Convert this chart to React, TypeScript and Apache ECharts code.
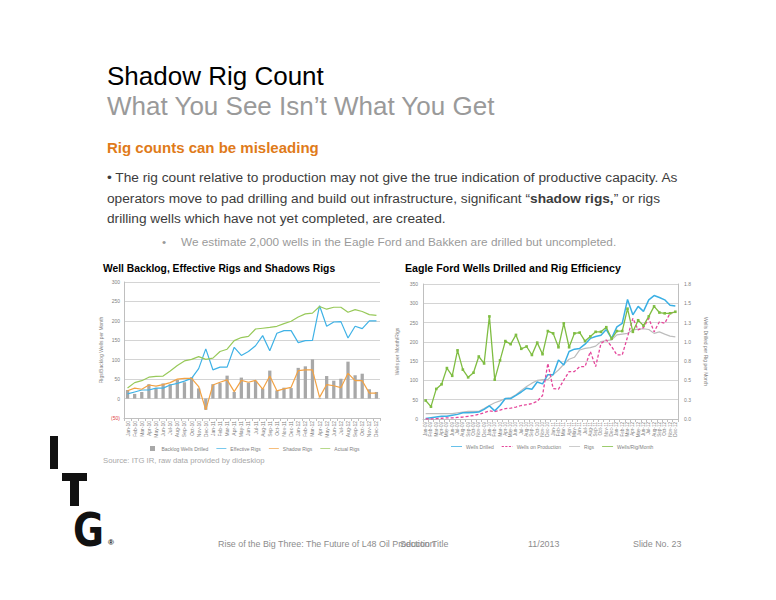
import React, { useEffect, useRef } from 'react';
import * as echarts from 'echarts';

const MONTHS = ['Jan', 'Feb', 'Mar', 'Apr', 'May', 'Jun', 'Jul', 'Aug', 'Sep', 'Oct', 'Nov', 'Dec'];
const LEFT_YEARS = ['10', '11', '12'];
const RIGHT_YEARS = ['09', '10', '11', '12'];
const leftCategories = LEFT_YEARS.flatMap((y) => MONTHS.map((m) => `${m}-${y}`));
const rightCategories = RIGHT_YEARS.flatMap((y) => MONTHS.map((m) => `${m}-${y}`));

// Left chart: Well Backlog, Effective Rigs and Shadows Rigs (Jan-10 .. Dec-12)
const backlogWells = [22, 12, 17, 37, 27, 39, 37, 48, 42, 55, 26, -29, 37, 40, 59, 17, 54, 41, 46, 26, 72, 21, 28, 27, 79, 83, 101, 2, 58, 46, 51, 95, 60, 64, 24, 17];
const effectiveRigs = [12, 17, 22, 22, 27, 27, 35, 39, 45, 52, 77, 128, 74, 81, 81, 132, 111, 121, 136, 162, 123, 168, 175, 175, 144, 149, 150, 239, 186, 197, 198, 156, 186, 180, 200, 200];
const shadowRigs = [20, 27, 24, 35, 32, 36, 41, 50, 52, 52, 31, -29, 35, 42, 48, 18, 47, 42, 47, 24, 58, 20, 25, 29, 72, 74, 74, 3, 36, 33, 28, 65, 46, 46, 14, 14];
const actualRigs = [27, 41, 46, 55, 57, 58, 71, 85, 97, 101, 108, 101, 104, 121, 127, 149, 157, 160, 179, 181, 183, 186, 193, 199, 210, 218, 220, 237, 230, 235, 235, 222, 229, 224, 216, 214];
const leftTicks = { min: -50, max: 300, interval: 50 };

// Right chart: Eagle Ford Wells Drilled and Rig Efficiency (Jan-09 .. Dec-12)
const wellsDrilled = [1, 3, 5, 7, 7, 10, 12, 16, 16, 17, 18, 25, 34, 21, 35, 53, 53, 61, 70, 80, 77, 96, 91, 115, 115, 153, 140, 175, 181, 183, 194, 209, 214, 217, 232, 209, 239, 248, 310, 270, 292, 279, 309, 320, 315, 309, 295, 293];
const wellsOnProduction = [0, 0, 1, 2, 3, 3, 4, 5, 7, 9, 12, 16, 21, 19, 23, 27, 28, 31, 35, 37, 40, 46, 61, 144, 79, 77, 101, 123, 123, 136, 136, 175, 136, 196, 205, 188, 166, 166, 213, 261, 231, 237, 261, 226, 252, 248, 274, 278];
const rigs = [14, 14, 14, 14, 14, 14, 16, 18, 20, 20, 20, 27, 35, 42, 47, 53, 55, 63, 74, 84, 93, 100, 102, 102, 115, 127, 142, 155, 160, 179, 183, 185, 189, 201, 203, 205, 218, 220, 222, 231, 233, 234, 232, 222, 226, 220, 215, 213];
const wellsPerRigMonth = [0.24, 0.16, 0.39, 0.45, 0.66, 0.56, 0.89, 0.64, 0.54, 0.6, 0.81, 0.72, 1.33, 0.51, 0.76, 1.01, 0.97, 1.09, 0.91, 0.94, 0.83, 0.99, 0.84, 1.14, 1.11, 0.93, 1.24, 0.93, 1.11, 1.12, 1.01, 1.07, 1.13, 1.13, 1.19, 1.04, 1.14, 1.14, 1.43, 1.13, 1.28, 1.21, 1.33, 1.46, 1.38, 1.37, 1.37, 1.39];
const rightLeftTicks = { min: 0, max: 350, interval: 50 };
const rightRightTicks = { min: 0, max: 1.75, interval: 0.25 };

const FONT = '"Liberation Sans", Arial, Helvetica, sans-serif';
const AX = '#7f7f7f';
const GRID_LINE = '#d4d4d4';
const SMALL = 5;

const ICON_SQUARE = 'path://M0,0h10v10h-10z';
const ICON_LINE = 'path://M0,0h20v1.4h-20z';
const ICON_DASH = 'path://M0,0h4v1.4h-4zM6.5,0h4v1.4h-4zM13,0h4v1.4h-4zM19.5,0h0.5v1.4h-0.5z';

function txt(x: number, y: number, text: string, size: number, fill: string, extra: any = {}) {
  return {
    type: 'text',
    x,
    y,
    silent: true,
    style: {
      text,
      fill,
      fontSize: size,
      fontFamily: FONT,
      textVerticalAlign: 'middle',
      ...extra,
    },
  };
}

export default function App() {
  const ref = useRef<HTMLDivElement>(null);

  useEffect(() => {
    if (!ref.current) return;
    const chart = echarts.init(ref.current, undefined, { renderer: 'svg' });

    const axisLabel = { fontSize: SMALL, color: AX, fontFamily: FONT };
    const xAxisCommon = (data: string[], gridIndex: number, size: number) => ({
      type: 'category',
      gridIndex,
      data,
      axisLine: { onZero: false, lineStyle: { color: '#bfbfbf' } },
      axisTick: { show: true, length: 3, lineStyle: { color: '#bfbfbf' } },
      axisLabel: { ...axisLabel, fontSize: size, rotate: 90, interval: 0, margin: 3 },
      splitLine: { show: false },
    });

    const option: any = {
      animation: false,
      backgroundColor: '#ffffff',
      textStyle: { fontFamily: FONT },
      grid: [
        { left: 124, top: 282, width: 256, height: 136 },
        { left: 423, top: 284, width: 255, height: 135 },
      ],
      xAxis: [xAxisCommon(leftCategories, 0, SMALL), xAxisCommon(rightCategories, 1, 4.6)],
      yAxis: [
        {
          type: 'value',
          gridIndex: 0,
          ...leftTicks,
          axisLine: { show: true, lineStyle: { color: '#bfbfbf' } },
          axisTick: { show: false },
          splitLine: { lineStyle: { color: GRID_LINE } },
          axisLabel: {
            ...axisLabel,
            margin: 4,
            formatter: (v: number) => (v < 0 ? `{neg|(${-v})}` : String(v)),
            rich: { neg: { color: '#e04545', fontSize: SMALL, fontFamily: FONT } },
          },
          name: 'Rigs/Backlog Wells per Month',
          nameLocation: 'middle',
          nameGap: 21,
          nameTextStyle: { fontSize: SMALL, color: AX, fontFamily: FONT },
        },
        {
          type: 'value',
          gridIndex: 1,
          ...rightLeftTicks,
          axisLine: { show: true, lineStyle: { color: '#bfbfbf' } },
          axisTick: { show: false },
          splitLine: { lineStyle: { color: GRID_LINE } },
          axisLabel: { ...axisLabel, margin: 5 },
          name: 'Wells per Month/Rigs',
          nameLocation: 'middle',
          nameGap: 24,
          nameTextStyle: { fontSize: SMALL, color: AX, fontFamily: FONT },
        },
        {
          type: 'value',
          gridIndex: 1,
          position: 'right',
          ...rightRightTicks,
          axisLine: { show: true, lineStyle: { color: '#bfbfbf' } },
          axisTick: { show: false },
          splitLine: { show: false },
          axisLabel: { ...axisLabel, margin: 6, formatter: (v: number) => v.toFixed(1) },
          name: 'Wells Drilled per Rig per Month',
          nameLocation: 'middle',
          nameRotate: -90,
          nameGap: 25,
          nameTextStyle: { fontSize: SMALL, color: AX, fontFamily: FONT },
        },
      ],
      legend: [
        {
          left: 150,
          top: 446,
          padding: 0,
          itemWidth: 10,
          itemHeight: 5,
          itemGap: 8,
          textStyle: { fontSize: SMALL, color: AX, fontFamily: FONT, padding: [0, 0, 0, -1] },
          data: [
            { name: 'Backlog Wells Drilled', icon: ICON_SQUARE },
            { name: 'Effective Rigs', icon: ICON_LINE },
            { name: 'Shadow Rigs', icon: ICON_LINE },
            { name: 'Actual Rigs', icon: ICON_LINE },
          ],
        },
        {
          left: 451,
          top: 444,
          padding: 0,
          itemWidth: 11,
          itemHeight: 5,
          itemGap: 8,
          textStyle: { fontSize: SMALL, color: AX, fontFamily: FONT, padding: [0, 0, 0, -1] },
          data: [
            { name: 'Wells Drilled', icon: ICON_LINE },
            { name: 'Wells on Production', icon: ICON_DASH },
            { name: 'Rigs', icon: ICON_LINE },
            { name: 'Wells/Rig/Month', icon: ICON_LINE },
          ],
        },
      ],
      series: [
        {
          name: 'Backlog Wells Drilled',
          type: 'bar',
          xAxisIndex: 0,
          yAxisIndex: 0,
          data: backlogWells,
          barWidth: '46%',
          itemStyle: { color: '#a8a8a8' },
        },
        {
          name: 'Effective Rigs',
          type: 'line',
          xAxisIndex: 0,
          yAxisIndex: 0,
          data: effectiveRigs,
          symbol: 'none',
          lineStyle: { color: '#3fb2e6', width: 1.2 },
          itemStyle: { color: '#3fb2e6' },
        },
        {
          name: 'Shadow Rigs',
          type: 'line',
          xAxisIndex: 0,
          yAxisIndex: 0,
          data: shadowRigs,
          symbol: 'none',
          lineStyle: { color: '#f2a244', width: 1.2 },
          itemStyle: { color: '#f2a244' },
        },
        {
          name: 'Actual Rigs',
          type: 'line',
          xAxisIndex: 0,
          yAxisIndex: 0,
          data: actualRigs,
          symbol: 'none',
          lineStyle: { color: '#98c95a', width: 1.2 },
          itemStyle: { color: '#98c95a' },
        },
        {
          name: 'Wells Drilled',
          type: 'line',
          xAxisIndex: 1,
          yAxisIndex: 1,
          data: wellsDrilled,
          symbol: 'none',
          z: 4,
          lineStyle: { color: '#3aafe4', width: 1.5 },
          itemStyle: { color: '#3aafe4' },
        },
        {
          name: 'Wells on Production',
          type: 'line',
          xAxisIndex: 1,
          yAxisIndex: 1,
          data: wellsOnProduction,
          symbol: 'none',
          z: 5,
          lineStyle: { color: '#e5479b', width: 1.3, type: [3, 2] },
          itemStyle: { color: '#e5479b' },
        },
        {
          name: 'Rigs',
          type: 'line',
          xAxisIndex: 1,
          yAxisIndex: 1,
          data: rigs,
          symbol: 'none',
          z: 3,
          lineStyle: { color: '#bdbdbd', width: 1.2 },
          itemStyle: { color: '#bdbdbd' },
        },
        {
          name: 'Wells/Rig/Month',
          type: 'line',
          xAxisIndex: 1,
          yAxisIndex: 2,
          data: wellsPerRigMonth,
          symbol: 'rect',
          symbolSize: 2.6,
          showAllSymbol: true,
          z: 6,
          lineStyle: { color: '#7fbd42', width: 1.3 },
          itemStyle: { color: '#7fbd42' },
        },
      ],
      graphic: [
        txt(107, 76, 'Shadow Rig Count', 26, '#000000'),
        txt(107, 106, 'What You See Isn’t What You Get', 26, '#9a9a9a'),
        txt(107, 147, 'Rig counts can be misleading', 15, '#e07b1a', { fontWeight: 'bold' }),
        txt(107, 177, '• The rig count relative to production may not give the true indication of productive capacity. As', 13.7, '#3c3c3c'),
        txt(107, 198, 'operators move to pad drilling and build out infrastructure, significant “{b|shadow rigs,}” or rigs', 13.7, '#3c3c3c', {
          rich: { b: { fontWeight: 'bold', fontSize: 13.7, fontFamily: FONT, fill: '#3c3c3c' } },
        }),
        txt(107, 218, 'drilling wells which have not yet completed, are created.', 13.7, '#3c3c3c'),
        txt(162, 242, '•', 11.8, '#9a9a9a'),
        txt(181, 242, 'We estimate 2,000 wells in the Eagle Ford and Bakken are drilled but uncompleted.', 11.8, '#9a9a9a'),
        txt(103, 268, 'Well Backlog, Effective Rigs and Shadows Rigs', 10.3, '#000000', { fontWeight: 'bold' }),
        txt(405, 268, 'Eagle Ford Wells Drilled and Rig Efficiency', 10.6, '#000000', { fontWeight: 'bold' }),
        txt(103, 460, 'Source: ITG IR, raw data provided by dideskiop', 7.7, '#a8a8a8'),
        txt(218, 544, 'Rise of the Big Three: The Future of L48 Oil Production', 8.9, '#8c8c8c'),
        txt(400, 544, 'Section Title', 8.9, '#8c8c8c'),
        txt(528, 544, '11/2013', 8.9, '#8c8c8c'),
        txt(633, 544, 'Slide No. 23', 8.9, '#8c8c8c'),
        { type: 'rect', silent: true, shape: { x: 50, y: 436, width: 8, height: 33 }, style: { fill: '#111111' } },
        { type: 'rect', silent: true, shape: { x: 62, y: 473, width: 25, height: 8 }, style: { fill: '#111111' } },
        { type: 'rect', silent: true, shape: { x: 70, y: 473, width: 9, height: 33 }, style: { fill: '#111111' } },
        {
          type: 'text',
          silent: true,
          x: 73,
          y: 530,
          scaleX: 0.82,
          style: { text: 'G', fill: '#111111', fontSize: 46, fontWeight: 'bold', fontFamily: '"DejaVu Sans", sans-serif', textVerticalAlign: 'middle' },
        },
        txt(108, 542, '®', 8, '#111111', { fontWeight: 'bold' }),
      ],
    };

    chart.setOption(option);
    return () => chart.dispose();
  }, []);

  return (
    <div
      ref={ref}
      style={{ position: 'absolute', left: 0, top: 0, width: 776, height: 600, background: '#ffffff' }}
    />
  );
}
